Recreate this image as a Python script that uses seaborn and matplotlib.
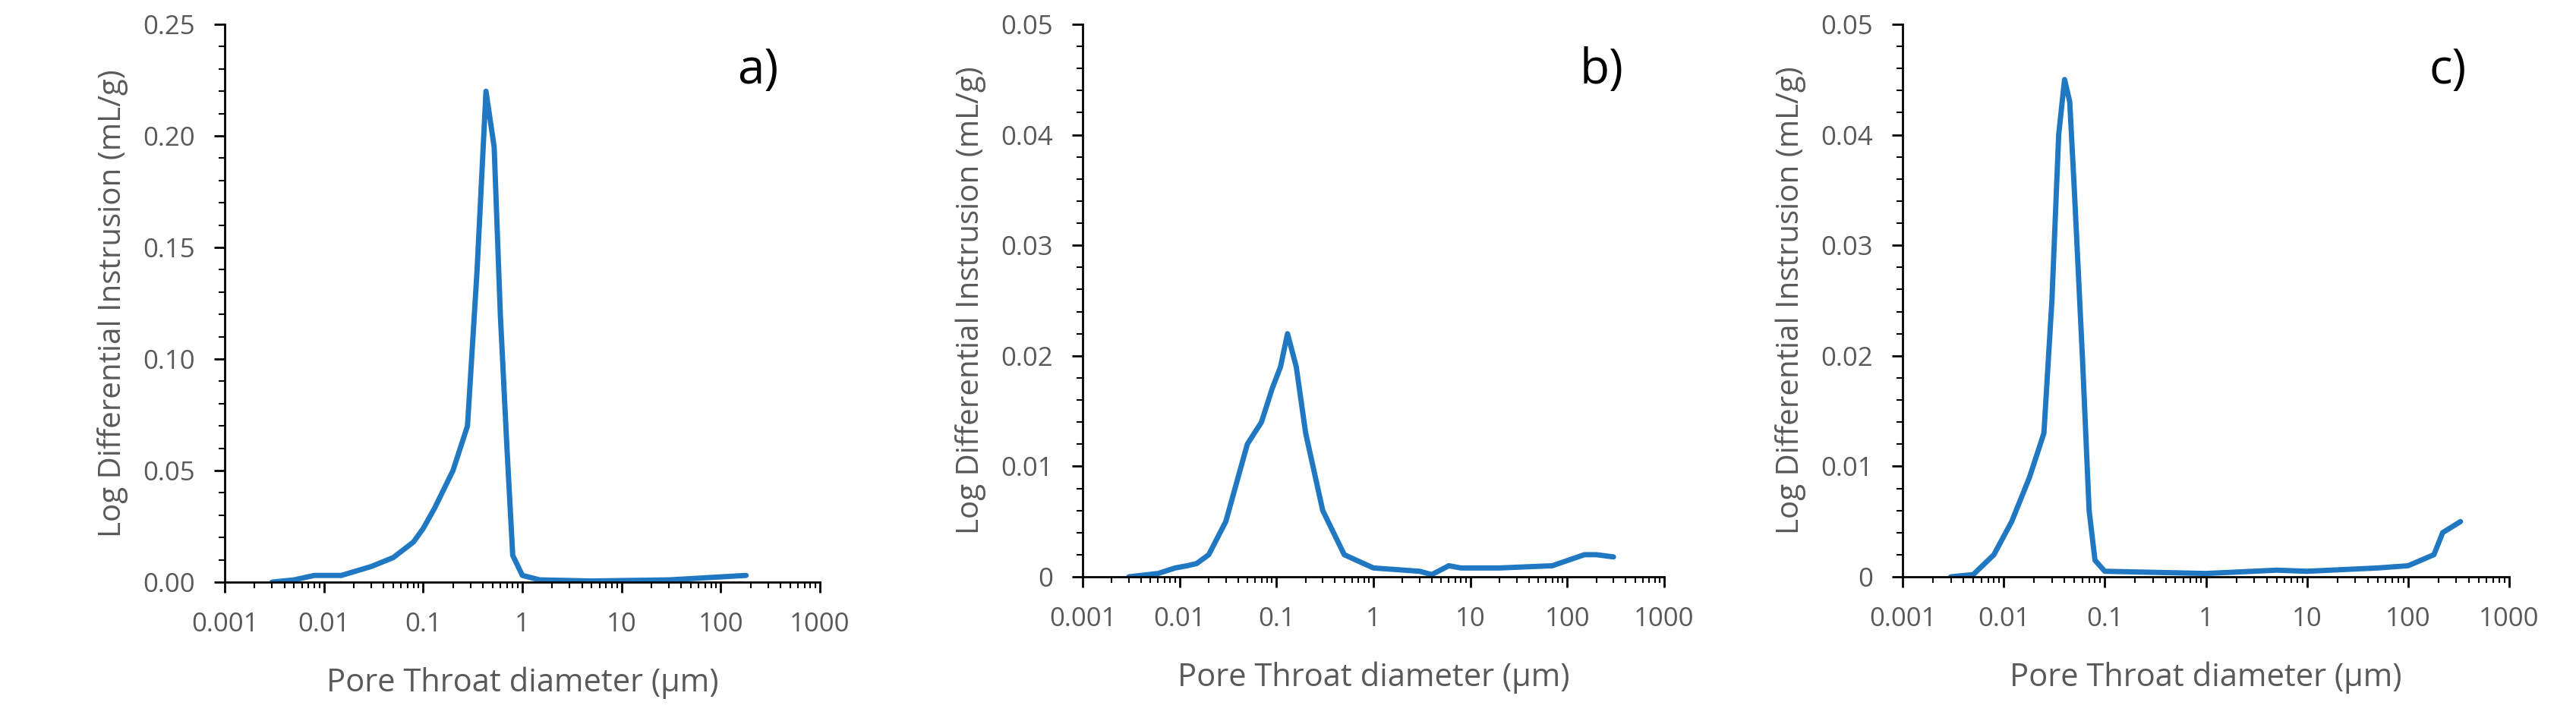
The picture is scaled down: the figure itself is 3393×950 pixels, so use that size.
import matplotlib
matplotlib.use("Agg")
import matplotlib.pyplot as plt
import seaborn as sns
import numpy as np
from matplotlib.ticker import LogLocator, FixedLocator, FuncFormatter, MultipleLocator

sns.set_style("white")
plt.rcParams['font.family'] = ['Open Sans', 'DejaVu Sans']

xa = [0.003,0.005,0.008,0.015,0.03,0.05,0.08,0.1,0.13,0.2,0.28,0.35,0.43,0.52,0.6,0.7,0.8,1.0,1.5,5,30,180]
ya = [0,0.001,0.003,0.003,0.007,0.011,0.018,0.024,0.033,0.05,0.07,0.14,0.22,0.195,0.12,0.06,0.012,0.003,0.001,0.0005,0.001,0.003]
xb = [0.003,0.006,0.009,0.012,0.015,0.02,0.03,0.05,0.07,0.09,0.11,0.13,0.16,0.2,0.3,0.5,1,3,4,6,8,20,70,150,200,300]
yb = [0,0.0003,0.0008,0.001,0.0012,0.002,0.005,0.012,0.014,0.017,0.019,0.022,0.019,0.013,0.006,0.002,0.0008,0.0005,0.0002,0.001,0.0008,0.0008,0.001,0.002,0.002,0.0018]
xc = [0.003,0.005,0.008,0.012,0.018,0.025,0.03,0.035,0.04,0.045,0.05,0.06,0.07,0.08,0.1,1,5,10,50,100,180,220,330]
yc = [0,0.0002,0.002,0.005,0.009,0.013,0.025,0.04,0.045,0.043,0.035,0.02,0.006,0.0015,0.0005,0.0003,0.0006,0.0005,0.0008,0.001,0.002,0.004,0.005]
xticklabels = ["0.001","0.01","0.1","1","10","100","1000"]
panels = ["a)", "b)", "c)"]

fig = plt.figure(figsize=(33.93, 9.5), dpi=100)
rects = [(296, 1080, 32, 767), (1426, 2192, 32, 760), (2506, 3305, 32, 760)]
W, H = 3393, 950
grey = "#595959"
data = [(xa, ya, 0.25, 0.05, 0.01, "{:.2f}"), (xb, yb, 0.05, 0.01, 0.002, None), (xc, yc, 0.05, 0.01, 0.002, None)]
for (l, r, t, b), (x, y, ymax, maj, mn, fmt), lab in zip(rects, data, panels):
    ax = fig.add_axes([l / W, 1 - b / H, (r - l) / W, (b - t) / H])
    sns.lineplot(x=x, y=y, ax=ax, color="#1f78c1", linewidth=5)
    ax.set_xscale("log")
    ax.set_xlim(0.001, 1000)
    ax.set_ylim(0, ymax)
    ax.xaxis.set_major_locator(FixedLocator([10.0**k for k in range(-3, 4)]))
    ax.xaxis.set_major_formatter(FuncFormatter(lambda v, p: xticklabels[int(round(np.log10(v))) + 3]))
    ax.xaxis.set_minor_locator(LogLocator(base=10, subs=np.arange(2, 10)))
    ax.yaxis.set_major_locator(MultipleLocator(maj))
    ax.yaxis.set_minor_locator(MultipleLocator(mn))
    if fmt:
        ax.yaxis.set_major_formatter(FuncFormatter(lambda v, p: "{:.2f}".format(v)))
    else:
        ax.yaxis.set_major_formatter(FuncFormatter(lambda v, p: "0" if abs(v) < 1e-9 else "{:.2f}".format(v)))
    sns.despine(ax=ax)
    for s in ["left", "bottom"]:
        ax.spines[s].set_color("black")
        ax.spines[s].set_linewidth(2)
    ax.tick_params(which="major", direction="out", length=10, width=2, color="black", labelsize=25, labelcolor=grey, bottom=True, left=True, pad=18)
    ax.tick_params(which="minor", direction="out", length=6, width=1.5, color="black", bottom=True, left=True)
    ax.set_xlabel("Pore Throat diameter (\u03bcm)", fontsize=30, color=grey, labelpad=28)
    ax.set_ylabel("Log Differential Instrusion (mL/g)", fontsize=29, color=grey, labelpad=14)
    ax.text(0.93, 0.96, lab, transform=ax.transAxes, fontsize=46, ha="right", va="top", color="black")

fig.savefig("out.png", dpi=100)
